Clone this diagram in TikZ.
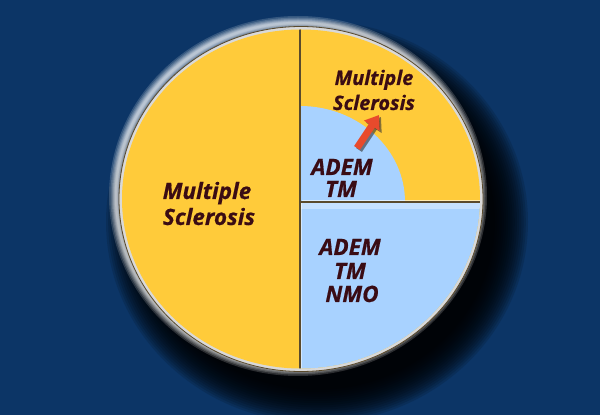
\documentclass[tikz,border=0pt]{standalone}
\usepackage{fontspec}
\newfontfamily\labfont{Open Sans}[BoldItalicFeatures={FakeBold=0.6}]
\usetikzlibrary{arrows.meta}
\definecolor{bgblue}{HTML}{0C3566}
\definecolor{pieyellow}{HTML}{FFCB3A}
\definecolor{pieblue}{HTML}{A8D2FF}
\definecolor{txt}{HTML}{3A0C14}
\definecolor{rimdark}{HTML}{5A4A2C}
\definecolor{arrowred}{HTML}{E84A2C}
\tikzset{
  lab/.style={text=txt, font=\labfont\bfseries\itshape\fontsize{22.5}{26}\selectfont, anchor=base, inner sep=0pt},
  labsmall/.style={lab, font=\labfont\bfseries\itshape\fontsize{20}{24}\selectfont},
  divider/.style={draw=rimdark, line width=1.3pt},
}
\begin{document}
\begin{tikzpicture}[x=1pt,y=1pt]
\useasboundingbox (0,0) rectangle (600,415);
\fill[bgblue] (0,0) rectangle (600,415);
% shadow
\foreach \i in {0,...,15}
  \fill[black, opacity=0.13] (317,193) ellipse [x radius=178+2.2*\i, y radius=168+2.2*\i];
% white glow
\foreach \w in {14,11,8.5,6.5,5,3.5,2.2}
  \draw[white, opacity=0.17, line width=\w pt] (298,219) ellipse [x radius=182, y radius=173];
% rim
\fill[draw=rimdark, line width=0.8pt, fill=gray!30] (301,216) ellipse [x radius=182, y radius=172.5];
\fill[pieyellow] (301,216) ellipse [x radius=179, y radius=169.5];
\begin{scope}
  \clip (301,216) ellipse [x radius=179, y radius=169.5];
  \fill[pieblue] (300,213) rectangle (490,40);
  \fill[white, opacity=0.35] (300,213) rectangle (490,206);
  \fill[pieblue] (300,213) -- (405,213) arc[start angle=0, end angle=90, x radius=105, y radius=96] -- cycle;
  \draw[white, opacity=0.6, line width=1pt] (302,214.5) -- (490,214.5);
  \draw[white, opacity=0.5, line width=1pt] (301.5,40) -- (301.5,213);
  \draw[divider] (300,0) -- (300,420);
  \draw[divider] (300,213) -- (490,213);
\end{scope}
% texts
\node[lab] (l1) at (207,216) {Multiple};
\node[lab] (l2) at (209,190) {Sclerosis};
\node[labsmall] (r1) at (374,330) {Multiple};
\node[labsmall] (r2) at (374,305) {Sclerosis};
\node[lab] (i1) at (342,240) {ADEM};
\node[lab] (i2) at (341,218) {TM};
\node[lab] (b1) at (350,160) {ADEM};
\node[lab] (b2) at (350,136) {TM};
\node[lab] (b3) at (352,113) {NMO};
% arrow
\coordinate (atail) at (357,267);
\coordinate (atip) at (379,300);
\coordinate (stail) at (359,265);
\coordinate (stip) at (381,298);
\draw[black!80, opacity=0.6, line width=7pt, -{Triangle[width=18pt,length=13pt]}] (stail) -- (stip);
\draw[arrowred, line width=7pt, -{Triangle[width=18pt,length=13pt]}] (atail) -- (atip);
\end{tikzpicture}
\end{document}
